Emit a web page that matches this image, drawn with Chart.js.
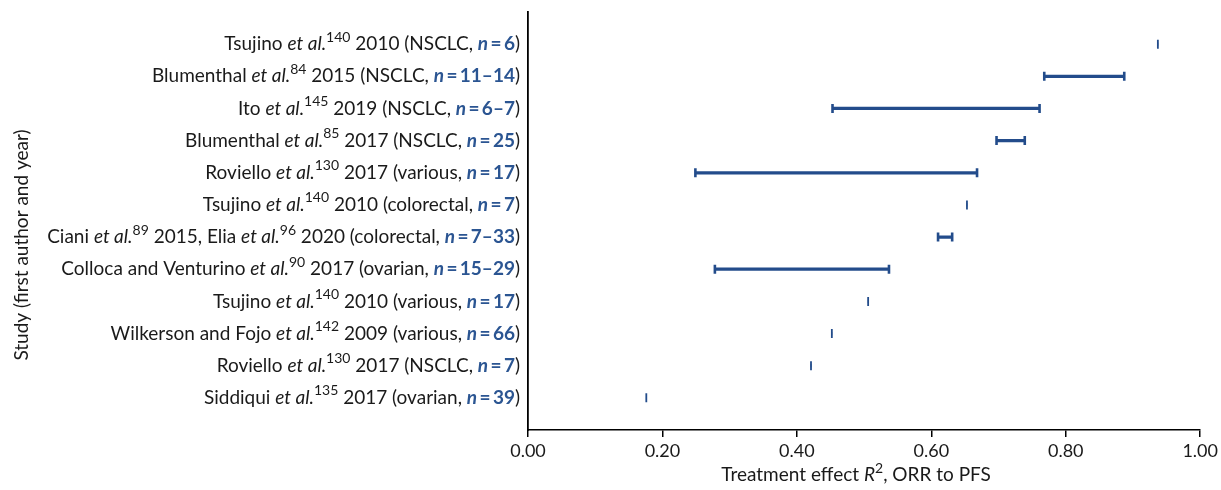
<!DOCTYPE html>
<html>
<head>
<meta charset="utf-8">
<script src="https://cdn.jsdelivr.net/npm/chart.js@4.4.1/dist/chart.umd.min.js"></script>
<style>
  html, body { margin: 0; padding: 0; background: #fff; }
  #wrap { width: 1221px; height: 490px; position: relative; }
</style>
</head>
<body>
<div id="wrap"><canvas id="chart"></canvas></div>
<script>
// Study labels: _italic_, ^superscript^, {bold blue sample size}
const studies = [
    'Tsujino _et al._^140^ 2010 (NSCLC, {n = 6})',
    'Blumenthal _et al._^84^ 2015 (NSCLC, {n = 11–14})',
    'Ito _et al._^145^ 2019 (NSCLC, {n = 6–7})',
    'Blumenthal _et al._^85^ 2017 (NSCLC, {n = 25})',
    'Roviello _et al._^130^ 2017 (various, {n = 17})',
    'Tsujino _et al._^140^ 2010 (colorectal, {n = 7})',
    'Ciani _et al._^89^ 2015, Elia _et al._^96^ 2020 (colorectal, {n = 7–33})',
    'Colloca and Venturino _et al._^90^ 2017 (ovarian, {n = 15–29})',
    'Tsujino _et al._^140^ 2010 (various, {n = 17})',
    'Wilkerson and Fojo _et al._^142^ 2009 (various, {n = 66})',
    'Roviello _et al._^130^ 2017 (NSCLC, {n = 7})',
    'Siddiqui _et al._^135^ 2017 (ovarian, {n = 39})'
];
const lowR2  = [0.937, 0.768, 0.453, 0.697, 0.249, 0.653, 0.610, 0.278, 0.506, 0.452, 0.421, 0.176];
const highR2 = [0.937, 0.887, 0.761, 0.739, 0.668, 0.653, 0.631, 0.537, 0.506, 0.452, 0.421, 0.176];
const xTicks = [0, 0.2, 0.4, 0.6, 0.8, 1.0];

const FONT = 'Lato, "Open Sans", sans-serif';
const INK = '#1a1a1a';
const BLUE = '#234c8b';
const NBLUE = '#2b5592';

// split a marked-up label into styled runs
function parseRuns(str) {
    const runs = [];
    const re = /_([^_]+)_|\^([^^]+)\^|\{([^}]+)\}|([^_^{]+)/g;
    let m;
    while ((m = re.exec(str)) !== null) {
        if (m[1]) runs.push({ t: m[1], style: 'italic' });
        else if (m[2]) runs.push({ t: m[2], style: 'sup' });
        else if (m[3]) {
            const parts = m[3].split(' = ');
            runs.push({ t: parts[0], style: 'nvar' });
            runs.push({ t: '\u2009=\u2009' + parts[1], style: 'nval' });
        } else runs.push({ t: m[4], style: 'plain' });
    }
    return runs;
}

function runFont(style) {
    switch (style) {
        case 'italic': return 'italic 19px ' + FONT;
        case 'sup': return '14px ' + FONT;
        case 'nvar': return 'italic bold 19px ' + FONT;
        case 'nval': return 'bold 19px ' + FONT;
        default: return '19px ' + FONT;
    }
}

function drawRuns(ctx, runs, xRight, y) {
    let total = 0;
    runs.forEach(r => { ctx.font = runFont(r.style); r.w = ctx.measureText(r.t).width; total += r.w; });
    let x = xRight - total;
    runs.forEach(r => {
        ctx.font = runFont(r.style);
        ctx.fillStyle = (r.style === 'nvar' || r.style === 'nval') ? NBLUE : INK;
        ctx.fillText(r.t, x, r.style === 'sup' ? y - 7 : y);
        x += r.w;
    });
}

const rowIdx = studies.map((s, i) => i + 1);

const labelPlugin = {
    id: 'studyLabels',
    afterDraw(chart) {
        const ctx = chart.ctx;
        const ys = chart.scales.y;
        const area = chart.chartArea;
        ctx.save();
        ctx.textAlign = 'left';
        ctx.textBaseline = 'middle';
        studies.forEach((s, i) => {
            drawRuns(ctx, parseRuns(s), area.left - 8, ys.getPixelForValue(rowIdx[i]));
        });

        // x axis title
        const xTitle = [
            { t: 'Treatment effect ', style: 'plain' },
            { t: 'R', style: 'italic' },
            { t: '2', style: 'sup' },
            { t: ', ORR to PFS', style: 'plain' }
        ];
        let tw = 0;
        xTitle.forEach(r => { ctx.font = runFont(r.style); tw += ctx.measureText(r.t).width; });
        const cx = area.left + (area.right - area.left) * 0.488;
        drawRuns(ctx, xTitle, cx + tw / 2, 475);

        // y axis title
        ctx.translate(22, 245);
        ctx.rotate(-Math.PI / 2);
        ctx.textAlign = 'center';
        ctx.font = '19px ' + FONT;
        ctx.fillStyle = INK;
        ctx.fillText('Study (first author and year)', 0, 0);
        ctx.restore();
    }
};

new Chart(document.getElementById('chart').getContext('2d'), {
    data: {
        datasets: [
            {
                type: 'bar',
                data: rowIdx.map((r, i) => ({ x: [lowR2[i], highR2[i]], y: r })),
                backgroundColor: BLUE,
                borderWidth: 0,
                barThickness: 2.6,
                borderSkipped: false
            },
            {
                // whisker caps and single estimates
                type: 'scatter',
                data: rowIdx.flatMap((r, i) => lowR2[i] === highR2[i]
                    ? [{ x: lowR2[i], y: r, single: true }]
                    : [{ x: lowR2[i], y: r }, { x: highR2[i], y: r }]),
                pointStyle: 'line',
                rotation: 90,
                radius: 4.5,
                hoverRadius: 4.5,
                borderColor: BLUE,
                borderWidth: ctx => (ctx.raw && ctx.raw.single) ? 1.8 : 2.6
            }
        ]
    },
    options: {
        indexAxis: 'y',
        responsive: true,
        maintainAspectRatio: false,
        animation: false,
        layout: { padding: { top: 12, right: 19, left: 0, bottom: 0 } },
        plugins: {
            legend: { display: false },
            tooltip: { enabled: false }
        },
        scales: {
            x: {
                type: 'linear',
                min: 0,
                max: 1,
                afterBuildTicks: scale => { scale.ticks = xTicks.map(v => ({ value: v })); },
                afterFit: scale => { scale.height = 60; },
                ticks: {
                    callback: v => v.toFixed(2),
                    color: INK,
                    font: { family: FONT, size: 18 },
                    padding: 3,
                    maxRotation: 0
                },
                grid: { drawOnChartArea: false, drawTicks: true, tickLength: 7, color: '#000', lineWidth: 1.5 },
                border: { display: true, color: '#000', width: 1.5 }
            },
            y: {
                type: 'linear',
                min: 0,
                max: 13,
                reverse: true,
                offset: false,
                afterFit: scale => { scale.width = 528; },
                ticks: { display: false },
                grid: { display: false, drawTicks: false },
                border: { display: true, color: '#000', width: 1.8 }
            }
        }
    },
    plugins: [labelPlugin]
});
</script>
</body>
</html>
